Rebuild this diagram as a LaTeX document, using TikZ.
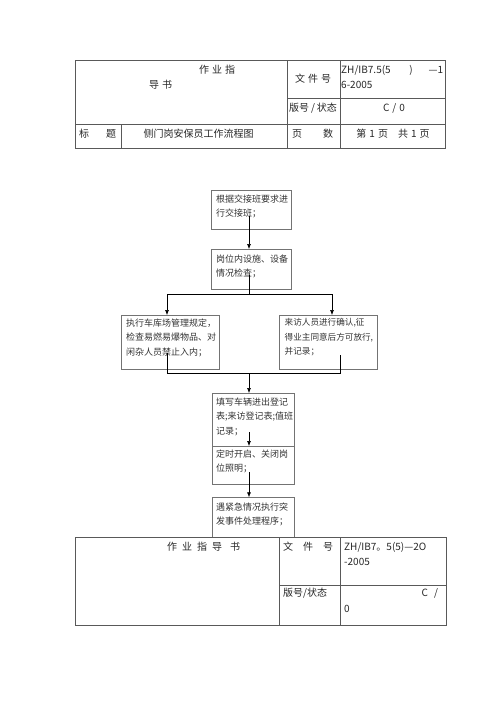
\documentclass[tikz,border=0pt]{standalone}
\usepackage{fontspec}
\setmainfont{Noto Sans CJK SC}
\usetikzlibrary{arrows.meta}
\begin{document}
\begin{tikzpicture}[x=1pt,y=-1pt,
  tbl/.style={draw=black!65, line width=0.9pt},
  box/.style={draw=black!55, line width=0.7pt, anchor=north west, inner sep=0pt, outer sep=0pt},
  ftxt/.style={anchor=north west, inner sep=0pt, align=left, text=black!80, font=\fontsize{9}{14.5}\selectfont},
  ttxt/.style={inner sep=0pt, text=black!85, font=\fontsize{10}{14}\selectfont},
  arr/.style={-{Latex[length=5pt,width=4pt]}, line width=0.6pt},
  ln/.style={line width=0.6pt}]
\useasboundingbox (0,0) rectangle (500,707);

% ---------- top table ----------
\draw[tbl] (75,60) rectangle (445.5,148);
\draw[tbl] (75,124) -- (445.5,124);
\draw[tbl] (287,60) -- (287,148);
\draw[tbl] (340,60) -- (340,148);
\draw[tbl] (287,98.5) -- (445.5,98.5);
\draw[tbl] (121,124) -- (121,148);

\node[ttxt] (t1) at (217,70) {作\hspace{3pt}业\hspace{3pt}指};
\node[ttxt] (t2) at (160.5,85) {导\hspace{3pt}书};
\node[ttxt] (t3) at (313,79) {文\hspace{3pt}件\hspace{3pt}号};
\node[ttxt, anchor=west] (t4) at (341,70) {\makebox[102pt][l]{ZH/IB7.5(5\hfill)\hspace{16pt}—1}};
\node[ttxt, anchor=west] (t5) at (341,85) {6-2005};
\node[ttxt] (t6) at (313,108) {版号\hspace{2pt}/\hspace{2pt}状态};
\node[ttxt] (t7) at (394,108) {C\hspace{3pt}/\hspace{3pt}0};
\node[ttxt] (t8) at (84,134) {标};
\node[ttxt] (t9) at (111,134) {题};
\node[ttxt] (t10) at (198.5,134) {侧门岗安保员工作流程图};
\node[ttxt] (t11) at (297,134) {页};
\node[ttxt] (t12) at (328,134) {数};
\node[ttxt] (t13) at (393,134) {第\hspace{3pt}1\hspace{3pt}页\hspace{10pt}共\hspace{3pt}1\hspace{3pt}页};

% ---------- flow boxes ----------
\node[box, minimum width=80pt, minimum height=39pt] (b1) at (211,190) {};
\node[box, minimum width=80pt, minimum height=40pt] (b2) at (211,249) {};
\node[box, minimum width=98pt, minimum height=54pt] (b3) at (121,315) {};
\node[box, minimum width=98pt, minimum height=54pt] (b4) at (279,315) {};
\node[box, minimum width=82pt, minimum height=53pt] (b5) at (212,393) {};
\node[box, minimum width=82pt, minimum height=38pt] (b6) at (212,446) {};
\node[box, minimum width=82pt, minimum height=40.2pt] (b7) at (212,497.3) {};

\node[ftxt] (x1) at (216,194.5) {根据交接班要求进\\行交接班；};
\node[ftxt] (x2) at (216,254.5) {岗位内设施、设备\\情况检查；};
\node[ftxt] (x3) at (126,318.5) {执行车库场管理规定，\\检查易燃易爆物品、对\\闲杂人员禁止入内；};
\node[ftxt, font=\fontsize{8.6}{14.5}\selectfont] (x4) at (284.5,318.5) {来访人员进行确认,征\\得业主同意后方可放行,\\并记录；};
\node[ftxt] (x5) at (216,397.5) {填写车辆进出登记\\表;来访登记表;值班\\记录；};
\node[ftxt] (x6) at (216,449.5) {定时开启、关闭岗\\位照明；};
\node[ftxt] (x7) at (216,502.5) {遇紧急情况执行突\\发事件处理程序；};

% ---------- connectors ----------
\coordinate (s1) at (249,216);
\draw[arr] (s1) -- (s1 |- b2.north);
\coordinate (s2) at (249,275);
\coordinate (j1) at (249,294);
\coordinate (jl) at (167,294);
\coordinate (jr) at (332,294);
\draw[ln] (s2) -- (j1);
\draw[ln] (jl) -- (jr);
\draw[arr] (jl) -- (jl |- b3.north);
\draw[arr] (jr) -- (jr |- b4.north);
\coordinate (s3) at (167,353);
\coordinate (s4) at (340,355);
\coordinate (m1) at (249,373.3);
\draw[ln] (s3) |- (m1) -| (s4);
\draw[arr] (m1) -- (m1 |- b5.north);
\coordinate (s5) at (249,432);
\draw[arr] (s5) -- (s5 |- b6.north);
\coordinate (s6) at (249,472);
\draw[arr] (s6) -- (s6 |- b7.north);

% ---------- bottom table ----------
\draw[tbl] (75,537.5) rectangle (446,625);
\draw[tbl] (279.5,537.5) -- (279.5,625);
\draw[tbl] (340,537.5) -- (340,625);
\draw[tbl] (279.5,585) -- (446,585);

\node[ttxt] (u1) at (203.5,547) {作\hspace{5pt}业\hspace{5pt}指\hspace{5pt}导\hspace{8pt}书};
\node[ttxt, anchor=west] (u2) at (283,547) {\makebox[50pt][l]{文\hfill 件\hfill 号}};
\node[ttxt, anchor=west] (u3) at (344,547) {ZH/IB7。5(5)—2O};
\node[ttxt, anchor=west] (u4) at (344,562) {-2005};
\node[ttxt, anchor=west] (u5) at (283,593) {版号/状态};
\node[ttxt, anchor=west] (u6) at (421.5,593) {C\hspace{6pt}/};
\node[ttxt, anchor=west] (u7) at (344,609) {0};
\end{tikzpicture}
\end{document}
